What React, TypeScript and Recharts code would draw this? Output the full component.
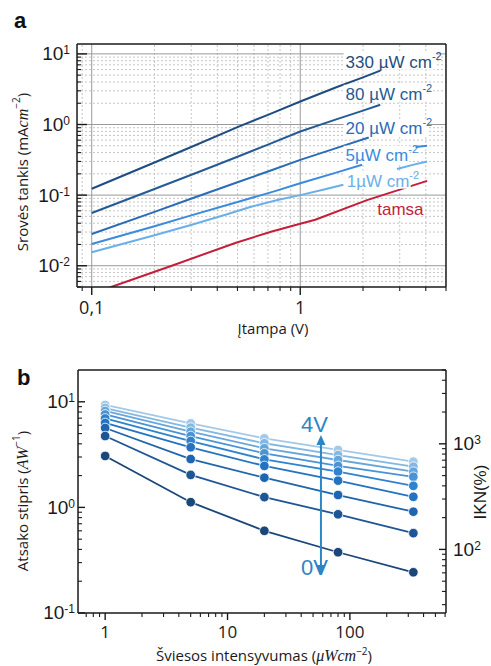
import React from 'react';
import { LineChart, Line, XAxis, YAxis, ReferenceDot, ReferenceLine } from 'recharts';

// ---------------- Panel a data ----------------
const voltageTicks = [0.09, 0.1, 0.2, 0.3, 0.4, 0.5, 0.6, 0.7, 0.8, 0.9, 1, 2, 3, 4, 5];
const voltageGridMajor = [0.1, 1];
const voltageGridMinor = [0.09, 0.2, 0.3, 0.4, 0.5, 0.6, 0.7, 0.8, 0.9, 2, 3, 4];
const currentTicks = [0.005, 0.006, 0.007, 0.008, 0.009, 0.01, 0.02, 0.03, 0.04, 0.05, 0.06, 0.07, 0.08, 0.09,
  0.1, 0.2, 0.3, 0.4, 0.5, 0.6, 0.7, 0.8, 0.9, 1, 2, 3, 4, 5, 6, 7, 8, 9, 10];
const currentGridMajor = [0.01, 0.1, 1, 10];
const currentGridMinor = [0.006, 0.007, 0.008, 0.009, 0.02, 0.03, 0.04, 0.05, 0.06, 0.07, 0.08, 0.09,
  0.2, 0.3, 0.4, 0.5, 0.6, 0.7, 0.8, 0.9, 2, 3, 4, 5, 6, 7, 8, 9];

const v330 = [0.1, 0.2, 0.3, 0.5, 0.7, 1, 1.5, 2, 2.42];
const j330 = [0.123, 0.29, 0.48, 0.92, 1.37, 2.12, 3.4, 4.65, 5.8];
const v80 = [0.1, 0.2, 0.33, 0.5, 0.7, 1, 1.5, 2, 2.42];
const j80 = [0.0558, 0.122, 0.216, 0.35, 0.52, 0.796, 1.19, 1.57, 1.9];
const v20 = [0.1, 0.2, 0.29, 0.5, 0.7, 1, 1.5, 2.13];
const j20 = [0.0282, 0.058, 0.086, 0.152, 0.216, 0.316, 0.466, 0.655];
const v5 = [0.1, 0.2, 0.3, 0.545, 0.75, 1, 1.5, 1.98, 2.5, 3.57, 4.06];
const j5 = [0.0203, 0.0362, 0.0516, 0.086, 0.113, 0.147, 0.21, 0.269, null, 0.48, 0.5];
const v1 = [0.1, 0.2, 0.302, 0.45, 0.586, 0.787, 1, 1.3, 1.61, 2.2, 2.91, 3.5, 4.06];
const j1 = [0.0155, 0.027, 0.0381, 0.054, 0.069, 0.086, 0.1, 0.12, 0.14, null, 0.234, 0.27, 0.3];
const vDark = [0.1, 0.124, 0.242, 0.488, 0.731, 1, 1.18, 2.09, 4.06];
const jDark = [0.004, 0.005, 0.01, 0.021, 0.0306, 0.0393, 0.0448, 0.085, 0.159];

const seriesLabelsA = ['330 µW cm', '80 µW cm', '20 µW cm', '5µW cm', '1µW cm', 'tamsa'];
const seriesSupA = ['-2', '-2', '-2', '-2', '-2', ''];
// annotation anchors (data units)
const labelVA = [1.65, 1.65, 1.65, 1.65, 1.67, 2.34];
const labelJA = [7.78, 2.72, 0.89, 0.373, 0.16, 0.064];

// ---------------- Panel b data ----------------
const intensity = [1, 5, 20, 80, 330];
const intensityTicks = [0.7, 0.8, 0.9, 1, 2, 3, 4, 5, 6, 7, 8, 9, 10, 20, 30, 40, 50, 60, 70, 80, 90, 100,
  200, 300, 400, 500, 600];
const respTicks = [0.1, 0.2, 0.3, 0.4, 0.5, 0.6, 0.7, 0.8, 0.9, 1, 2, 3, 4, 5, 6, 7, 8, 9, 10];
const iknTicks = [30, 40, 50, 60, 70, 80, 90, 100, 200, 300, 400, 500, 600, 700, 800, 900, 1000,
  2000, 3000, 4000, 5000];

const r0V = [3.07, 1.12, 0.6, 0.376, 0.243];
const r05V = [4.74, 2.03, 1.25, 0.86, 0.57];
const r1V = [5.65, 2.87, 1.91, 1.31, 0.91];
const r15V = [6.3, 3.71, 2.47, 1.79, 1.26];
const r2V = [6.95, 4.25, 2.85, 2.18, 1.6];
const r25V = [7.59, 4.74, 3.25, 2.47, 1.95];
const r3V = [8.19, 5.21, 3.63, 2.81, 2.18];
const r35V = [8.73, 5.69, 4.05, 3.13, 2.43];
const r4V = [9.33, 6.25, 4.51, 3.5, 2.71];

const arrowIntensity = 58;
const arrowLow = 0.229;
const arrowHigh = 4.85;
const arrowTopText = '4V';
const arrowBottomText = '0V';

// ---------------- styles ----------------
const colorsA = ['#1f4d80', '#245b96', '#2a6cb6', '#3a8bdb', '#6aafe9', '#c41e3a'];
const colorsB = ['#1a467a', '#1d5596', '#1f64ae', '#2472c2', '#2f82cd', '#4a93d4', '#67a6db', '#85b8e1', '#a3c9e9'];
const AXIS = '#1a1a1a';
const SANS = "'Liberation Sans', Arial, sans-serif";
const OPEN = "'Open Sans', 'Liberation Sans', sans-serif";
const SERIF = "'Liberation Serif', 'DejaVu Serif', serif";
const THIN = 0.01;

const toPoints = (xs: number[], ys: (number | null)[]) => xs.map((x, i) => ({ x, y: ys[i] }));

const seriesA = [
  toPoints(v330, j330), toPoints(v80, j80), toPoints(v20, j20),
  toPoints(v5, j5), toPoints(v1, j1), toPoints(vDark, jDark),
];
const seriesB = [r0V, r05V, r1V, r15V, r2V, r25V, r3V, r35V, r4V].map((r) => toPoints(intensity, r));

const isDecade = (v: number) => Math.abs(Math.log10(v) - Math.round(Math.log10(v))) < 1e-9;

const PowText = ({ x, y, anchor, v }: { x: number; y: number; anchor: 'start' | 'end'; v: number }) => (
  <text x={x} y={y} textAnchor={anchor} fill="#1a1a1a" fontFamily={SANS}>
    <tspan fontSize={19} dy={6.5}>10</tspan>
    <tspan fontSize={12} dy={-6}>{String(Math.round(Math.log10(v)))}</tspan>
  </text>
);

// left axis: inward ticks, labels outside
const LeftTick = (majorLen: number, minorLen: number, gap: number) => (props: any) => {
  const { x, y, payload } = props;
  const major = isDecade(payload.value);
  return (
    <g>
      <line x1={x} x2={x + (major ? majorLen : minorLen)} y1={y} y2={y} stroke={AXIS} strokeWidth={major ? 1.4 : 1.1} />
      {major ? <PowText x={x - gap} y={y} anchor="end" v={payload.value} /> : null}
    </g>
  );
};

// right axis: inward ticks, labels outside
const RightTick = (majorLen: number, minorLen: number, gap: number) => (props: any) => {
  const { x, y, payload } = props;
  const major = isDecade(payload.value);
  return (
    <g>
      <line x1={x} x2={x - (major ? majorLen : minorLen)} y1={y} y2={y} stroke={AXIS} strokeWidth={major ? 1.4 : 1.1} />
      {major ? <PowText x={x + gap} y={y} anchor="start" v={payload.value} /> : null}
    </g>
  );
};

// bottom axis: outward ticks, plain labels
const BottomTick = (majorLen: number, minorLen: number, size: number, dy: number) => (props: any) => {
  const { x, y, payload } = props;
  const major = isDecade(payload.value);
  return (
    <g>
      <line x1={x} x2={x} y1={y} y2={y + (major ? majorLen : minorLen)} stroke={AXIS} strokeWidth={major ? 1.4 : 1.1} />
      {major ? (
        <text x={x} y={y + dy} textAnchor="middle" fontSize={size} fontFamily={OPEN} fill="#1a1a1a">
          {String(payload.value).replace('.', ',')}
        </text>
      ) : null}
    </g>
  );
};

const SeriesLabel = (i: number) => (props: any) => {
  const { cx, cy } = props;
  const w = seriesLabelsA[i].length * 9 + (seriesSupA[i] ? 12 : 0);
  return (
    <g>
      <rect x={cx - 2} y={cy - 9} width={w} height={17} fill="#fff" />
      <text x={cx} y={cy + 6} fontSize={17} fontFamily={SANS} fill={colorsA[i]}>
        {seriesLabelsA[i]}
        {seriesSupA[i] ? <tspan fontSize={11} dy={-8}>{seriesSupA[i]}</tspan> : null}
      </text>
    </g>
  );
};

function PanelA() {
  const common = { type: 'number' as const, scale: 'log' as const, allowDataOverflow: true };
  const xDom: [number, number] = [0.085, 5];
  const yDom: [number, number] = [0.005, 13.8];
  const refAxes = { xAxisId: 'x', yAxisId: 'y' };
  return (
    <LineChart width={491} height={340} margin={{ top: 44, right: 45, bottom: 53, left: 77 }}>
      <XAxis xAxisId="x" {...common} dataKey="x" domain={xDom} ticks={voltageTicks} interval={0}
        tickSize={0} tickMargin={0} tickLine={false} height={THIN} tick={BottomTick(8, 4, 18, 27)}
        axisLine={{ stroke: AXIS, strokeWidth: 1.5 }} />
      <XAxis xAxisId="top" {...common} orientation="top" dataKey="x" domain={xDom} ticks={voltageGridMajor}
        tick={false} tickLine={false} height={THIN} axisLine={{ stroke: AXIS, strokeWidth: 1.5 }} />
      <YAxis yAxisId="y" {...common} dataKey="y" domain={yDom} ticks={currentTicks} interval={0}
        tickLine={false} tickSize={0} tickMargin={0} tick={LeftTick(10, 4, 7)} width={THIN}
        axisLine={{ stroke: AXIS, strokeWidth: 1.5 }} />
      <YAxis yAxisId="right" {...common} orientation="right" domain={yDom} ticks={currentGridMajor}
        tick={false} tickLine={false} width={THIN} axisLine={{ stroke: AXIS, strokeWidth: 1.5 }} />
      {voltageGridMinor.map((v) => (
        <ReferenceLine key={'gvx' + v} {...refAxes} x={v} stroke="#c6c6c6" strokeDasharray="2 2" zIndex={-90} />
      ))}
      {currentGridMinor.map((v) => (
        <ReferenceLine key={'gvy' + v} {...refAxes} y={v} stroke="#c6c6c6" strokeDasharray="2 2" zIndex={-90} />
      ))}
      {voltageGridMajor.map((v) => (
        <ReferenceLine key={'gMx' + v} {...refAxes} x={v} stroke="#9a9a9a" zIndex={-80} />
      ))}
      {currentGridMajor.map((v) => (
        <ReferenceLine key={'gMy' + v} {...refAxes} y={v} stroke="#9a9a9a" zIndex={-80} />
      ))}
      {seriesA.map((d, i) => (
        <Line key={i} {...refAxes} data={d} dataKey="y" stroke={colorsA[i]} strokeWidth={2}
          dot={false} isAnimationActive={false} connectNulls={false} />
      ))}
      {seriesLabelsA.map((_, i) => (
        <ReferenceDot key={'l' + i} {...refAxes} x={labelVA[i]} y={labelJA[i]} r={1} shape={SeriesLabel(i)} />
      ))}
    </LineChart>
  );
}

const ArrowShape = (p: any) => {
  const { x1, y1, y2 } = p;
  const top = Math.min(y1, y2);
  const bot = Math.max(y1, y2);
  const x = x1;
  const c = '#2b86c5';
  return (
    <g>
      <line x1={x} x2={x} y1={top + 8} y2={bot - 8} stroke={c} strokeWidth={2} />
      <polygon points={`${x},${top} ${x - 4.5},${top + 10} ${x + 4.5},${top + 10}`} fill={c} />
      <polygon points={`${x},${bot} ${x - 4.5},${bot - 10} ${x + 4.5},${bot - 10}`} fill={c} />
      <text x={x + 7} y={top - 3} textAnchor="end" fontSize={22} fontFamily={SANS} fill={c}>{arrowTopText}</text>
      <text x={x + 7} y={bot} textAnchor="end" fontSize={22} fontFamily={SANS} fill={c}>{arrowBottomText}</text>
    </g>
  );
};

function PanelB() {
  const common = { type: 'number' as const, scale: 'log' as const, allowDataOverflow: true };
  const xDom: [number, number] = [0.6, 610];
  const yDom: [number, number] = [0.1, 20];
  const rDom: [number, number] = [25, 5000];
  const order = [8, 7, 6, 5, 4, 3, 2, 1, 0];
  return (
    <LineChart width={491} height={326} margin={{ top: 30, right: 45, bottom: 53, left: 78 }}>
      <XAxis xAxisId="x" {...common} dataKey="x" domain={xDom} ticks={intensityTicks} interval={0}
        tickSize={0} tickMargin={0} tickLine={false} height={THIN} tick={BottomTick(7, 4, 17, 25)}
        axisLine={{ stroke: AXIS, strokeWidth: 1.5 }} />
      <XAxis xAxisId="top" {...common} orientation="top" dataKey="x" domain={xDom} ticks={[1, 10, 100]}
        tick={false} tickLine={false} height={THIN} axisLine={{ stroke: AXIS, strokeWidth: 1.5 }} />
      <YAxis yAxisId="y" {...common} dataKey="y" domain={yDom} ticks={respTicks} interval={0}
        tickLine={false} tickSize={0} tickMargin={0} tick={LeftTick(7, 4, 3)} width={THIN}
        axisLine={{ stroke: AXIS, strokeWidth: 1.5 }} />
      <YAxis yAxisId="right" {...common} orientation="right" domain={rDom} ticks={iknTicks} interval={0}
        tickLine={false} tickSize={0} tickMargin={0} tick={RightTick(7, 4, 7)} width={THIN}
        axisLine={{ stroke: AXIS, strokeWidth: 1.5 }} />
      {order.map((i) => (
        <Line key={i} xAxisId="x" yAxisId="y" data={seriesB[i]} dataKey="y" stroke={colorsB[i]}
          strokeWidth={1.8} isAnimationActive={false}
          dot={{ r: 4.8, fill: colorsB[i], stroke: '#ffffff', strokeWidth: 0.8 }} />
      ))}
      <ReferenceLine xAxisId="x" yAxisId="y"
        segment={[{ x: arrowIntensity, y: arrowLow }, { x: arrowIntensity, y: arrowHigh }]}
        shape={ArrowShape} />
    </LineChart>
  );
}

export default function App() {
  return (
    <div style={{ position: 'absolute', left: 0, top: 0, width: 491, height: 666, background: '#fff', overflow: 'hidden' }}>
      <div style={{ position: 'absolute', left: 0, top: 0 }}><PanelA /></div>
      <div style={{ position: 'absolute', left: 0, top: 340 }}><PanelB /></div>
      <svg width={491} height={666} style={{ position: 'absolute', left: 0, top: 0, pointerEvents: 'none' }}>
        <text x={14} y={28} fontSize={22} fontWeight="bold" fontFamily={SANS} fill="#111">a</text>
        <text x={17} y={385} fontSize={22} fontWeight="bold" fontFamily={SANS} fill="#111">b</text>
        <text x={22} y={172} transform="rotate(-90 22 172)" textAnchor="middle" dominantBaseline="central"
          fontSize={15} fontFamily={OPEN} fill="#1a1a1a">
          Srovės tankis (mA<tspan fontFamily={SERIF} fontStyle="italic" fontSize={16}>cm</tspan>
          <tspan fontSize={10} dy={-6}>−2</tspan><tspan dy={6}>)</tspan>
        </text>
        <text x={273} y={334} textAnchor="middle" fontSize={15} fontFamily={OPEN} fill="#1a1a1a">Įtampa (V)</text>
        <text x={22} y={501} transform="rotate(-90 22 501)" textAnchor="middle" dominantBaseline="central"
          fontSize={15} fontFamily={OPEN} fill="#1a1a1a">
          Atsako stipris (<tspan fontFamily={SERIF} fontStyle="italic" fontSize={16}>AW</tspan>
          <tspan fontSize={10} dy={-6}>−1</tspan><tspan dy={6}>)</tspan>
        </text>
        <text x={264} y={661} textAnchor="middle" fontSize={15} fontFamily={OPEN} fill="#1a1a1a">
          Šviesos intensyvumas (<tspan fontFamily={SERIF} fontStyle="italic" fontSize={16}>μWcm</tspan>
          <tspan fontSize={10} dy={-6}>−2</tspan><tspan dy={6}>)</tspan>
        </text>
        <text x={480} y={492} transform="rotate(-90 480 492)" textAnchor="middle" dominantBaseline="central"
          fontSize={17} fontFamily={SANS} fill="#1a1a1a">IKN(%)</text>
      </svg>
    </div>
  );
}
